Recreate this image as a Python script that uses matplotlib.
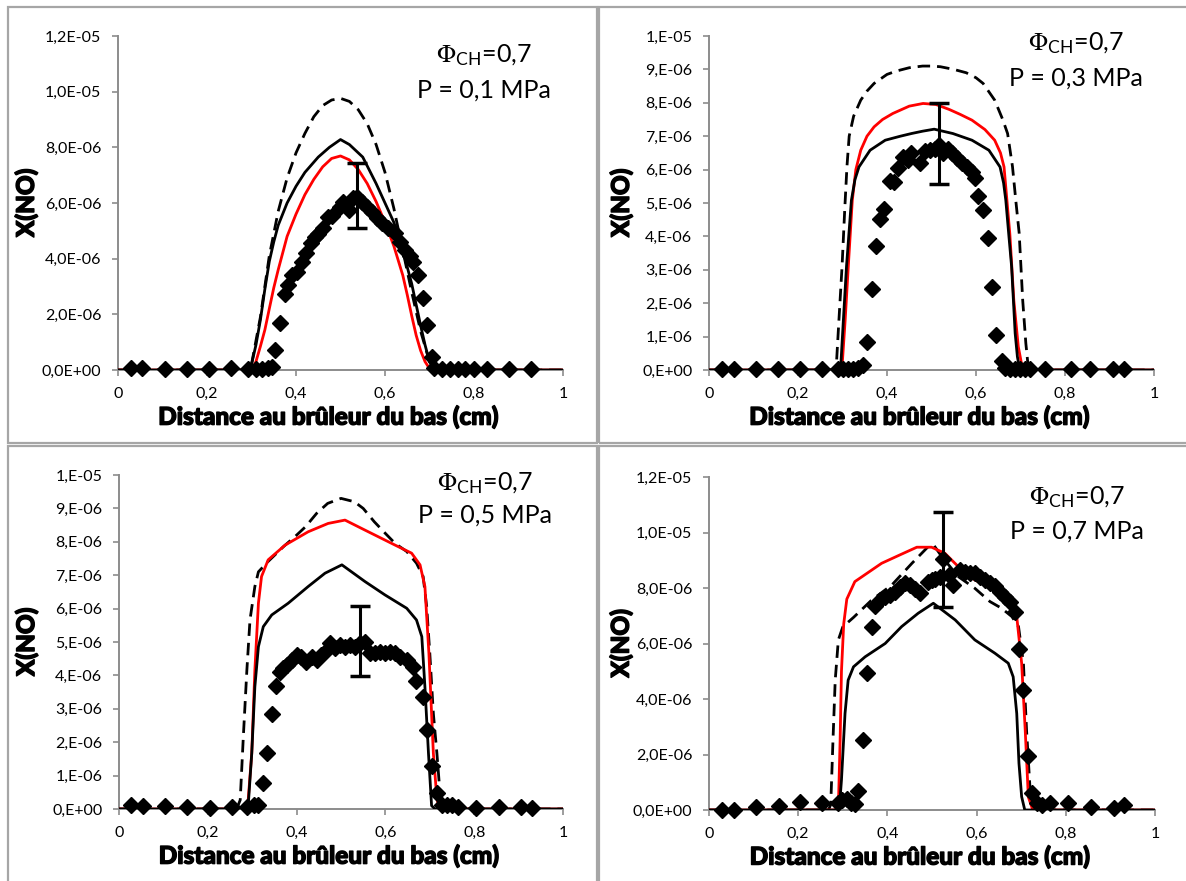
import matplotlib
matplotlib.use("Agg")
import matplotlib.pyplot as plt
from matplotlib.patches import Rectangle
from matplotlib import font_manager as fm
import matplotlib.patheffects as pe
import numpy as np

plt.rcParams['font.family'] = ['Lato', 'DejaVu Sans']
plt.rcParams['mathtext.fontset'] = 'stix'

# ---------------- data (mole fraction in units of 1e-6) ----------------
# Panel 1 : P = 0,1 MPa
p1_dash_x = [0, 0.29, 0.30, 0.32, 0.34, 0.36, 0.38, 0.40, 0.42, 0.44, 0.46, 0.48, 0.50, 0.52, 0.54, 0.56, 0.58, 0.60, 0.62, 0.64, 0.66, 0.68, 0.70, 0.71, 1.0]
p1_dash_y = [0, 0, 0.2, 1.9, 4.1, 5.7, 6.9, 7.8, 8.5, 9.1, 9.5, 9.7, 9.76, 9.65, 9.35, 8.85, 8.1, 7.1, 5.8, 4.3, 2.8, 1.4, 0.3, 0, 0]
p1_black_x = [0, 0.29, 0.30, 0.31, 0.32, 0.33, 0.34, 0.35, 0.36, 0.38, 0.40, 0.42, 0.45, 0.475, 0.50, 0.52, 0.55, 0.58, 0.60, 0.62, 0.64, 0.66, 0.68, 0.69, 0.70, 0.71, 1.0]
p1_black_y = [0, 0, 0.2, 0.9, 1.8, 2.9, 3.9, 4.6, 5.2, 6.0, 6.6, 7.1, 7.65, 8.0, 8.28, 8.1, 7.65, 6.7, 6.0, 5.3, 4.3, 3.1, 1.6, 0.9, 0.3, 0, 0]
p1_red_x = [0, 0.30, 0.31, 0.32, 0.33, 0.34, 0.35, 0.36, 0.38, 0.40, 0.42, 0.44, 0.46, 0.48, 0.50, 0.52, 0.54, 0.56, 0.58, 0.60, 0.62, 0.64, 0.65, 0.66, 0.67, 0.68, 0.69, 0.70, 0.705, 1.0]
p1_red_y = [0, 0, 0.3, 0.85, 1.44, 2.2, 2.95, 3.6, 4.8, 5.6, 6.3, 6.85, 7.3, 7.6, 7.69, 7.55, 7.2, 6.7, 6.05, 5.3, 4.45, 3.4, 2.7, 1.95, 1.25, 0.7, 0.3, 0.05, 0, 0]
p1_exp_x = [0.029, 0.055, 0.105, 0.155, 0.204, 0.254, 0.292, 0.309, 0.324, 0.337, 0.347, 0.353, 0.364, 0.375, 0.383, 0.390, 0.402, 0.413, 0.422, 0.434, 0.443, 0.449, 0.461, 0.473, 0.480, 0.499, 0.506, 0.518, 0.529, 0.536, 0.548, 0.559, 0.570, 0.581, 0.593, 0.607, 0.622, 0.634, 0.645, 0.656, 0.664, 0.675, 0.686, 0.694, 0.705, 0.710, 0.728, 0.745, 0.763, 0.780, 0.801, 0.829, 0.879, 0.929]
p1_exp_y = [0.06, 0.06, 0.05, 0.03, 0.05, 0.06, 0.03, 0.05, 0.05, 0.06, 0.12, 0.72, 1.70, 2.73, 3.05, 3.41, 3.53, 3.89, 4.19, 4.55, 4.79, 4.9, 5.09, 5.49, 5.54, 5.85, 6.02, 5.75, 6.17, 6.23, 6.05, 5.87, 5.69, 5.45, 5.27, 5.09, 4.91, 4.61, 4.31, 4.1, 3.89, 3.41, 2.57, 1.62, 0.48, 0.06, 0.03, 0.03, 0.03, 0.03, 0.03, 0.03, 0.03, 0.03]

# Panel 2 : P = 0,3 MPa
p2_dash_x = [0, 0.28, 0.286, 0.292, 0.299, 0.305, 0.310, 0.315, 0.325, 0.341, 0.355, 0.371, 0.40, 0.421, 0.45, 0.48, 0.50, 0.52, 0.55, 0.578, 0.60, 0.616, 0.642, 0.66, 0.671, 0.682, 0.690, 0.697, 0.705, 0.712, 0.718, 1.0]
p2_dash_y = [0, 0, 0.1, 1.5, 3.1, 4.8, 6.09, 7.0, 7.6, 8.08, 8.35, 8.58, 8.85, 8.95, 9.05, 9.1, 9.1, 9.08, 9.0, 8.9, 8.75, 8.58, 8.08, 7.5, 7.08, 6.09, 5.0, 4.1, 2.08, 0.8, 0, 0]
p2_red_x = [0, 0.29, 0.299, 0.306, 0.313, 0.322, 0.330, 0.341, 0.355, 0.371, 0.39, 0.413, 0.45, 0.481, 0.51, 0.540, 0.565, 0.591, 0.62, 0.642, 0.655, 0.663, 0.670, 0.676, 0.685, 0.695, 0.705, 1.0]
p2_red_y = [0, 0, 0.1, 1.5, 3.1, 5.08, 6.0, 6.58, 7.0, 7.28, 7.5, 7.68, 7.9, 7.98, 7.95, 7.8, 7.65, 7.48, 7.2, 6.88, 6.5, 6.08, 5.0, 4.08, 2.08, 0.7, 0, 0]
p2_black_x = [0, 0.29, 0.296, 0.302, 0.309, 0.320, 0.328, 0.337, 0.362, 0.396, 0.43, 0.455, 0.48, 0.506, 0.548, 0.591, 0.629, 0.654, 0.662, 0.667, 0.674, 0.680, 0.688, 0.693, 0.697, 0.70, 1.0]
p2_black_y = [0, 0, 0.1, 1.5, 3.1, 5.08, 5.7, 6.08, 6.58, 6.88, 7.0, 7.08, 7.15, 7.21, 7.08, 6.88, 6.58, 6.08, 5.6, 5.08, 4.0, 3.1, 1.1, 0.4, 0.1, 0, 0]
p2_exp_x = [0.030, 0.056, 0.105, 0.156, 0.205, 0.255, 0.291, 0.302, 0.313, 0.324, 0.334, 0.347, 0.354, 0.366, 0.375, 0.384, 0.394, 0.407, 0.416, 0.425, 0.437, 0.448, 0.455, 0.474, 0.485, 0.497, 0.508, 0.517, 0.526, 0.536, 0.545, 0.557, 0.568, 0.579, 0.590, 0.598, 0.605, 0.616, 0.626, 0.637, 0.646, 0.658, 0.665, 0.676, 0.688, 0.699, 0.710, 0.721, 0.756, 0.813, 0.856, 0.907, 0.932]
p2_exp_y = [0.02, 0.02, 0.02, 0.02, 0.02, 0.02, 0.02, 0.02, 0.02, 0.02, 0.05, 0.15, 0.85, 2.42, 3.71, 4.51, 4.81, 5.66, 5.64, 6.04, 6.37, 6.3, 6.49, 6.21, 6.57, 6.59, 6.61, 6.74, 6.49, 6.61, 6.49, 6.34, 6.21, 6.09, 5.94, 5.74, 5.21, 4.79, 3.94, 2.50, 1.05, 0.28, 0.05, 0.02, 0.02, 0.02, 0.02, 0.02, 0.02, 0.02, 0.02, 0.02, 0.02]

# Panel 3 : P = 0,5 MPa
p3_dash_x = [0, 0.265, 0.273, 0.280, 0.288, 0.295, 0.306, 0.314, 0.335, 0.37, 0.40, 0.42, 0.445, 0.47, 0.50, 0.53, 0.55, 0.575, 0.60, 0.622, 0.648, 0.670, 0.685, 0.693, 0.700, 0.708, 0.716, 0.723, 0.728, 1.0]
p3_dash_y = [0, 0, 0.27, 2.16, 4.16, 5.66, 6.66, 7.1, 7.4, 7.85, 8.2, 8.45, 8.85, 9.15, 9.3, 9.2, 9.0, 8.6, 8.25, 7.95, 7.71, 7.36, 6.96, 6.06, 4.66, 2.86, 1.67, 0.47, 0, 0]
p3_red_x = [0, 0.285, 0.290, 0.299, 0.306, 0.314, 0.321, 0.336, 0.374, 0.426, 0.471, 0.509, 0.554, 0.622, 0.659, 0.678, 0.689, 0.698, 0.708, 0.716, 0.722, 1.0]
p3_red_y = [0, 0, 0.1, 1.67, 4.16, 6.16, 6.96, 7.46, 7.90, 8.30, 8.55, 8.65, 8.35, 7.90, 7.66, 7.31, 6.66, 4.66, 1.67, 0.3, 0, 0]
p3_black_x = [0, 0.288, 0.291, 0.299, 0.306, 0.314, 0.325, 0.344, 0.381, 0.426, 0.464, 0.502, 0.554, 0.599, 0.648, 0.670, 0.682, 0.689, 0.697, 0.704, 0.712, 1.0]
p3_black_y = [0, 0, 0.1, 1.67, 3.66, 4.86, 5.46, 5.81, 6.16, 6.66, 7.06, 7.31, 6.81, 6.41, 6.01, 5.66, 5.16, 3.66, 1.67, 0.1, 0, 0]
p3_exp_x = [0.028, 0.053, 0.104, 0.154, 0.204, 0.254, 0.288, 0.305, 0.314, 0.325, 0.333, 0.344, 0.353, 0.363, 0.370, 0.378, 0.389, 0.400, 0.411, 0.422, 0.434, 0.445, 0.456, 0.464, 0.475, 0.486, 0.497, 0.509, 0.520, 0.531, 0.542, 0.554, 0.565, 0.577, 0.588, 0.599, 0.610, 0.622, 0.633, 0.648, 0.663, 0.670, 0.685, 0.693, 0.704, 0.716, 0.727, 0.738, 0.749, 0.764, 0.805, 0.855, 0.906, 0.930]
p3_exp_y = [0.12, 0.08, 0.08, 0.07, 0.03, 0.07, 0.07, 0.12, 0.12, 0.77, 1.67, 2.83, 3.69, 4.11, 4.21, 4.31, 4.46, 4.61, 4.56, 4.41, 4.56, 4.46, 4.61, 4.71, 4.98, 4.81, 4.91, 4.84, 4.91, 4.86, 4.98, 5.01, 4.68, 4.66, 4.71, 4.66, 4.71, 4.66, 4.56, 4.46, 4.26, 3.84, 3.36, 2.37, 1.29, 0.47, 0.12, 0.12, 0.12, 0.07, 0.03, 0.07, 0.07, 0.03]

# Panel 4 : P = 0,7 MPa
p4_dash_x = [0, 0.268, 0.273, 0.278, 0.283, 0.290, 0.300, 0.324, 0.365, 0.410, 0.455, 0.492, 0.505, 0.522, 0.559, 0.596, 0.630, 0.656, 0.679, 0.694, 0.705, 0.712, 0.720, 0.727, 0.732, 1.0]
p4_dash_y = [0, 0, 0.2, 2.52, 4.68, 6.13, 6.6, 6.94, 7.57, 8.11, 8.89, 9.5, 9.52, 9.13, 8.41, 7.99, 7.51, 7.27, 6.97, 6.61, 5.29, 2.88, 0.72, 0.1, 0, 0]
p4_red_x = [0, 0.28, 0.290, 0.294, 0.297, 0.302, 0.309, 0.327, 0.387, 0.429, 0.466, 0.499, 0.529, 0.559, 0.596, 0.634, 0.671, 0.690, 0.701, 0.709, 0.716, 0.726, 1.0]
p4_red_y = [0, 0, 0.05, 2.52, 5.0, 6.7, 7.6, 8.23, 8.89, 9.2, 9.47, 9.47, 9.25, 8.77, 8.29, 7.99, 7.57, 6.97, 5.29, 2.88, 0.47, 0, 0]
p4_black_x = [0, 0.292, 0.297, 0.305, 0.312, 0.324, 0.350, 0.395, 0.432, 0.469, 0.503, 0.552, 0.596, 0.641, 0.671, 0.682, 0.690, 0.695, 0.701, 0.708, 1.0]
p4_black_y = [0, 0, 1.08, 3.48, 4.68, 5.16, 5.52, 6.0, 6.61, 7.09, 7.45, 6.85, 6.13, 5.65, 5.29, 4.80, 3.48, 1.68, 0.48, 0, 0]
p4_exp_x = [0.030, 0.055, 0.106, 0.156, 0.205, 0.254, 0.290, 0.299, 0.309, 0.318, 0.327, 0.335, 0.346, 0.354, 0.365, 0.372, 0.383, 0.395, 0.406, 0.417, 0.428, 0.439, 0.451, 0.462, 0.473, 0.492, 0.501, 0.507, 0.518, 0.525, 0.537, 0.548, 0.563, 0.574, 0.585, 0.596, 0.608, 0.619, 0.630, 0.641, 0.652, 0.664, 0.675, 0.687, 0.695, 0.705, 0.715, 0.725, 0.735, 0.746, 0.765, 0.805, 0.856, 0.907, 0.930]
p4_exp_y = [0.0, 0.0, 0.12, 0.14, 0.3, 0.27, 0.27, 0.36, 0.39, 0.27, 0.21, 0.70, 2.52, 4.95, 6.61, 7.35, 7.57, 7.69, 7.75, 7.87, 8.02, 8.17, 8.11, 7.95, 7.81, 8.23, 8.29, 8.31, 8.41, 9.03, 8.47, 8.11, 8.65, 8.59, 8.53, 8.53, 8.41, 8.29, 8.17, 8.07, 7.87, 7.69, 7.51, 7.15, 5.81, 4.33, 1.93, 0.61, 0.24, 0.18, 0.27, 0.27, 0.12, 0.06, 0.18]

# error bars (x, y, half-width), units 1e-6
err_x = [0.536, 0.517, 0.542, 0.525]
err_y = [6.27, 6.77, 5.04, 9.02]
err_h = [1.18, 1.21, 1.05, 1.71]

pressures = ["0,1", "0,3", "0,5", "0,7"]
x_ticks = [0, 0.2, 0.4, 0.6, 0.8, 1.0]
x_ticklabels = ["0", "0,2", "0,4", "0,6", "0,8", "1"]
yticks_a = [0, 2, 4, 6, 8, 10, 12]
yticklabels_a = ["0,0E+00", "2,0E-06", "4,0E-06", "6,0E-06", "8,0E-06", "1,0E-05", "1,2E-05"]
yticks_b = [0, 1, 2, 3, 4, 5, 6, 7, 8, 9, 10]
yticklabels_b = ["0,E+00", "1,E-06", "2,E-06", "3,E-06", "4,E-06", "5,E-06", "6,E-06", "7,E-06", "8,E-06", "9,E-06", "1,E-05"]

panels = [
    (p1_dash_x, p1_dash_y, p1_black_x, p1_black_y, p1_red_x, p1_red_y, p1_exp_x, p1_exp_y, yticks_a, yticklabels_a),
    (p2_dash_x, p2_dash_y, p2_black_x, p2_black_y, p2_red_x, p2_red_y, p2_exp_x, p2_exp_y, yticks_b, yticklabels_b),
    (p3_dash_x, p3_dash_y, p3_black_x, p3_black_y, p3_red_x, p3_red_y, p3_exp_x, p3_exp_y, yticks_b, yticklabels_b),
    (p4_dash_x, p4_dash_y, p4_black_x, p4_black_y, p4_red_x, p4_red_y, p4_exp_x, p4_exp_y, yticks_a, yticklabels_a),
]

# bold face for axis titles, thickened with a thin stroke
bold_font = fm.FontProperties(family=['Lato', 'DejaVu Sans'], weight='black', size=17.5)
thick = [pe.withStroke(linewidth=1.0, foreground='black')]

# ---------------- layout ----------------
W, H = 1186, 881
fig = plt.figure(figsize=(W / 100, H / 100), dpi=100)

ax_px = [(118, 36, 563, 370), (709, 36, 1154, 370), (119, 475, 563, 809), (709, 477, 1155, 810)]
box_px = [(8, 7, 597, 443), (599, 7, 1192, 443), (8, 446, 597, 887), (599, 446, 1192, 887)]
ylab_x = [-0.180, -0.171, -0.182, -0.171]
txt_pos = [(0.822, 0.943, 0.838), (0.825, 0.979, 0.874), (0.824, 0.976, 0.880), (0.824, 0.941, 0.839)]

gray = '#8c8c8c'
for (l, t, r, b) in box_px:
    fig.add_artist(Rectangle((l / W, 1 - b / H), (r - l) / W, (b - t) / H,
                             transform=fig.transFigure, fill=False,
                             edgecolor='#a6a6a6', linewidth=1.6))

S = 1e-6
for i, pan in enumerate(panels):
    dx, dy, bx, by, rx, ry, ex, ey, yt, ytl = pan
    l, t, r, b = ax_px[i]
    ax = fig.add_axes([l / W, 1 - b / H, (r - l) / W, (b - t) / H])
    ax.plot(dx, np.array(dy) * S, color='black', lw=2.0, dashes=(4.5, 2.5), zorder=3)
    ax.plot(rx, np.array(ry) * S, color='#ff0000', lw=2.0, zorder=3)
    ax.plot(bx, np.array(by) * S, color='black', lw=2.0, zorder=4)
    ax.plot(ex, np.array(ey) * S, linestyle='none', marker='D', color='black',
            markersize=8.5, zorder=5, clip_on=False)
    ax.errorbar([err_x[i]], [err_y[i] * S], yerr=[err_h[i] * S], fmt='none',
                ecolor='black', elinewidth=2.2, capsize=7, capthick=2.5, zorder=6)

    ymax = yt[-1] * S
    ax.set_xlim(0, 1)
    ax.set_ylim(0, ymax)
    ax.set_xticks(x_ticks)
    ax.set_xticklabels(x_ticklabels)
    ax.set_yticks(np.array(yt) * S)
    ax.set_yticklabels(ytl)
    for s in ['top', 'right']:
        ax.spines[s].set_visible(False)
    for s in ['left', 'bottom']:
        ax.spines[s].set_color(gray)
        ax.spines[s].set_linewidth(1.4)
    ax.tick_params(axis='both', direction='out', length=4, width=1.2, color=gray,
                   labelsize=11.5, labelcolor='black')
    ax.tick_params(axis='y', pad=8)
    ax.tick_params(axis='x', pad=8)

    xl = ax.set_xlabel("Distance au brûleur du bas (cm)", fontproperties=bold_font)
    xl.set_path_effects(thick)
    ax.xaxis.set_label_coords(0.472, -0.105)
    yl = ax.set_ylabel("X(NO)", fontproperties=bold_font)
    yl.set_path_effects(thick)
    ax.yaxis.set_label_coords(ylab_x[i], 0.5)

    tx, ty1, ty2 = txt_pos[i]
    ax.text(tx, ty1, r"$\Phi_{\mathregular{CH}}$=0,7", transform=ax.transAxes,
            ha='center', va='center', fontsize=18)
    ax.text(tx, ty2, "P = " + pressures[i] + " MPa", transform=ax.transAxes,
            ha='center', va='center', fontsize=18)

fig.savefig("out.png", dpi=100)
